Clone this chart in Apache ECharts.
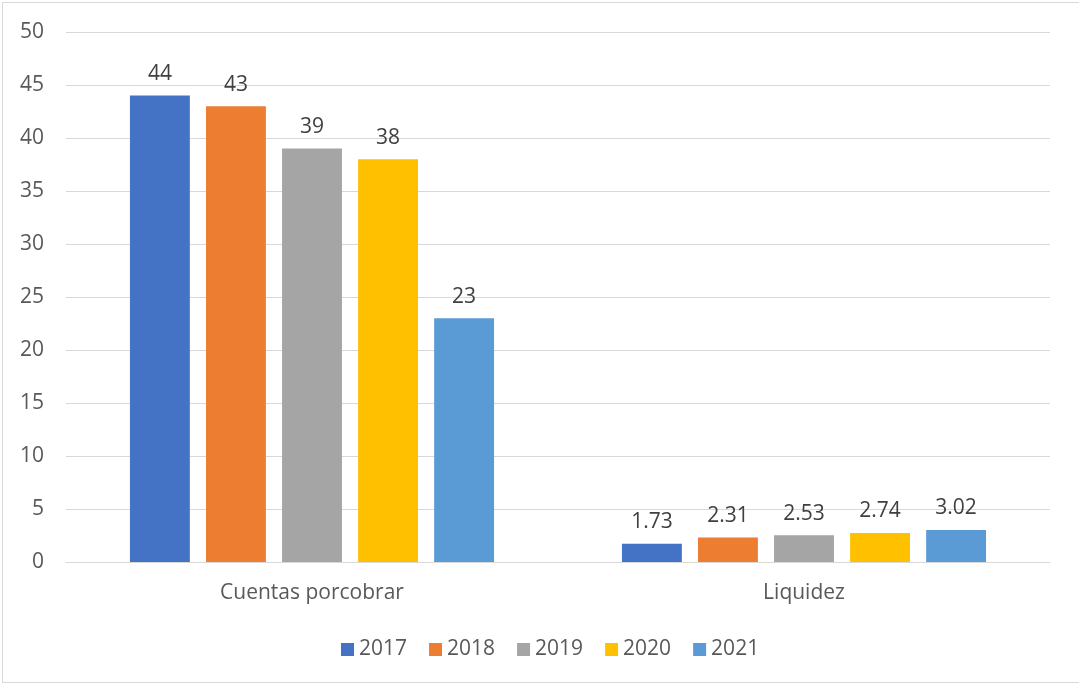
<!DOCTYPE html>
<html>
<head>
<meta charset="utf-8">
<style>
  html, body { margin: 0; padding: 0; background: #fff; overflow: hidden; }
  #frame { position: absolute; left: 2px; top: 2px; width: 1100px; height: 681px; border: 1px solid #d9d9d9; box-sizing: border-box; }
  #chart { position: absolute; left: 0; top: 0; width: 1079px; height: 684px; }
</style>
<script src="https://cdn.jsdelivr.net/npm/echarts@6/dist/echarts.min.js"></script>
</head>
<body>
<div id="frame"></div>
<div id="chart"></div>
<script>
// Indicator groups on the x axis
const categories = ['Cuentas porcobrar', 'Liquidez'];
// One series per year
const years = ['2017', '2018', '2019', '2020', '2021'];
const values2017 = [44, 1.73];
const values2018 = [43, 2.31];
const values2019 = [39, 2.53];
const values2020 = [38, 2.74];
const values2021 = [23, 3.02];
const yearColors = ['#4472c4', '#ed7d31', '#a5a5a5', '#ffc000', '#5b9bd5'];

const seriesValues = [values2017, values2018, values2019, values2020, values2021];
const fontFamily = '"Open Sans", Lato, sans-serif';

const chart = echarts.init(document.getElementById('chart'), null, { renderer: 'canvas' });
chart.setOption({
  animation: false,
  color: yearColors,
  grid: { left: 66, right: 29, top: 32, bottom: 122 },
  legend: {
    top: 634,
    left: 336,
    itemWidth: 13,
    itemHeight: 13,
    itemGap: 22,
    icon: 'rect',
    textStyle: { color: '#595959', fontSize: 21, fontFamily: fontFamily }
  },
  xAxis: {
    type: 'category',
    data: categories,
    axisLine: { lineStyle: { color: '#d9d9d9', width: 1 } },
    axisTick: { show: false },
    axisLabel: { color: '#595959', fontSize: 21, fontFamily: fontFamily, margin: 21 }
  },
  yAxis: {
    type: 'value',
    min: 0,
    max: 50,
    interval: 5,
    axisLine: { show: false },
    axisTick: { show: false },
    splitLine: { lineStyle: { color: '#d9d9d9', width: 1 } },
    axisLabel: { color: '#595959', fontSize: 21, fontFamily: fontFamily, margin: 22 }
  },
  series: years.map((year, i) => ({
    name: year,
    type: 'bar',
    data: seriesValues[i],
    barGap: '27%',
    barCategoryGap: '26%',
    label: {
      show: true,
      position: 'top',
      distance: 11,
      color: '#404040',
      fontSize: 21,
      fontFamily: fontFamily
    }
  }))
});
</script>
</body>
</html>
